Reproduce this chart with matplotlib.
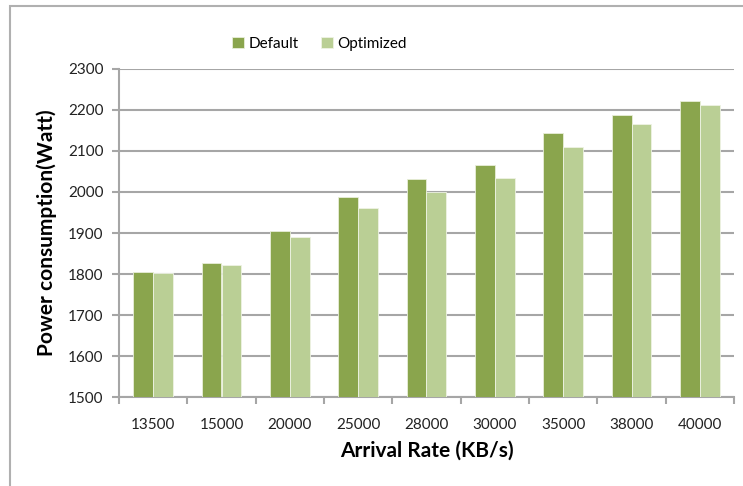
import numpy as np
import matplotlib.pyplot as plt
from matplotlib.patches import Rectangle

plt.rcParams['font.family'] = ['Lato', 'DejaVu Sans']

# Power consumption per arrival rate
rates = ["13500", "15000", "20000", "25000", "28000", "30000", "35000", "38000", "40000"]
default = [1806, 1826, 1904, 1987, 2031, 2065, 2145, 2188, 2221]
optimized = [1802, 1822, 1890, 1960, 2001, 2035, 2110, 2165, 2211]

c_def = "#8aa54d"
c_opt = "#bacf95"
grid_c = "#a6a6a6"

fig = plt.figure(figsize=(7.43, 4.86), dpi=100)
# outer chart frame
fig.patches.append(Rectangle((10 / 743, -0.1), 1.2, 1.1 - 6 / 486, transform=fig.transFigure,
                             fill=False, edgecolor="#b0b0b0", linewidth=1.5, zorder=0))

ax = fig.add_axes([119 / 743, 89 / 486, 615 / 743, 328 / 486])
x = np.arange(len(rates))
w = 0.29
ax.bar(x - w / 2, default, w, color=c_def, edgecolor="#e8eed9", linewidth=0.6,
       label="Default", zorder=3)
ax.bar(x + w / 2, optimized, w, color=c_opt, edgecolor="#eef3e4", linewidth=0.6,
       label="Optimized", zorder=3)

ax.set_ylim(1500, 2300)
ax.set_xlim(-0.5, len(rates) - 0.5)
ax.set_yticks(np.arange(1500, 2301, 100))
ax.yaxis.grid(True, color=grid_c, linewidth=1.5)
ax.set_axisbelow(True)

ax.set_xticks(x)
ax.set_xticklabels(rates)
ax.set_xticks(np.arange(-0.5, len(rates)), minor=True)
ax.tick_params(axis="x", which="major", length=0, pad=15, labelsize=11, labelcolor="#222222")
ax.tick_params(axis="x", which="minor", length=5, width=1.5, color=grid_c, direction="out")
ax.tick_params(axis="y", length=5, width=1.5, color=grid_c, pad=6, labelsize=11,
               labelcolor="#222222")

for s in ["top", "right"]:
    ax.spines[s].set_visible(False)
for s in ["left", "bottom"]:
    ax.spines[s].set_color(grid_c)
    ax.spines[s].set_linewidth(1.5)

ax.set_xlabel("Arrival Rate (KB/s)", fontsize=15, fontweight="bold", labelpad=6)
ax.set_ylabel("Power consumption(Watt)", fontsize=15, fontweight="bold", labelpad=8)

fig.legend(loc="center", bbox_to_anchor=(0.43, 0.909), ncol=2, frameon=False,
           fontsize=11, handlelength=0.75, handleheight=0.75, handletextpad=0.3,
           columnspacing=1.5)

fig.savefig("out.png", dpi=100)
